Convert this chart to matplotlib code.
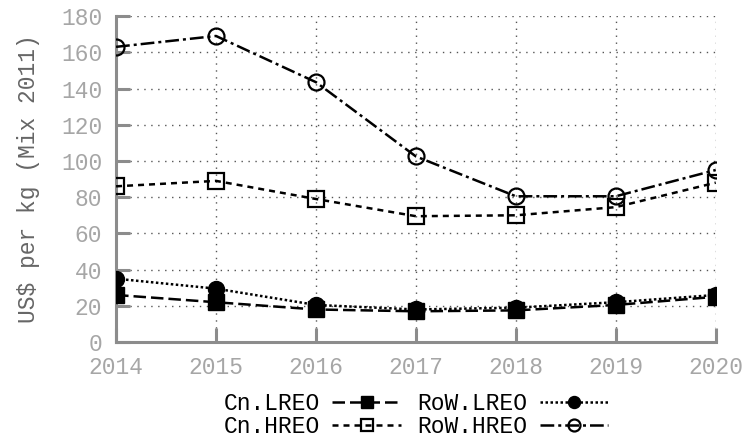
import matplotlib
matplotlib.use("Agg")
import matplotlib.pyplot as plt

plt.rcParams['font.family'] = ['Liberation Mono', 'DejaVu Sans Mono']

years = [2014, 2015, 2016, 2017, 2018, 2019, 2020]
cn_lreo = [26, 22, 18, 17, 17.5, 20.5, 25]
row_lreo = [35, 29.5, 20.5, 18, 19, 22, 26]
cn_hreo = [86, 89, 79, 69.5, 70, 74.5, 88]
row_hreo = [163, 169, 143.5, 102.5, 80.5, 80.5, 95]
yticks = [0, 20, 40, 60, 80, 100, 120, 140, 160, 180]

gris = '#8c8c8c'
fig = plt.figure(figsize=(7.44, 4.46), dpi=100)
ax = fig.add_axes([0.156, 0.233, 0.806, 0.731])

lw = 1.8
ms = 11.5
ax.plot(years, cn_lreo, color='black', linestyle=(0, (5, 2)), linewidth=lw,
        marker='s', markersize=ms, markerfacecolor='black', label='Cn.LREO', zorder=3)
ax.plot(years, cn_hreo, color='black', linestyle=(0, (2.4, 2)), linewidth=lw,
        marker='s', markersize=ms, markerfacecolor='none', markeredgewidth=1.6,
        label='Cn.HREO', zorder=3)
ax.plot(years, row_lreo, color='black', linestyle=(0, (1, 1)), linewidth=lw,
        marker='o', markersize=ms, markerfacecolor='black', label='RoW.LREO', zorder=3)
ax.plot(years, row_hreo, color='black', linestyle=(0, (5.5, 1.6, 1.2, 1.6)), linewidth=lw,
        marker='o', markersize=ms, markerfacecolor='none', markeredgewidth=1.6,
        label='RoW.HREO', zorder=3)

ax.set_xlim(2014, 2020)
ax.set_ylim(0, 180)
ax.set_xticks(years)
ax.set_yticks(yticks)
ax.grid(True, linestyle=(0, (1, 4)), color='#555555', linewidth=1)
for s in ['top', 'right']:
    ax.spines[s].set_visible(False)
for s in ['left', 'bottom']:
    ax.spines[s].set_color(gris)
    ax.spines[s].set_linewidth(2.2)
ax.tick_params(direction='in', length=10, width=2.2, color=gris, labelcolor='#a6a6a6',
               labelsize=16.5, pad=10)
ax.set_ylabel('US$ per kg (Mix 2011)', fontsize=16.5, color='#666666', labelpad=15)

# leyenda abajo, dos columnas, marcador a la derecha del texto
ax.legend(ncol=2, loc='upper center', bbox_to_anchor=(0.5, -0.11), frameon=False,
          markerfirst=False, fontsize=16.5, handlelength=3.0, columnspacing=0.7,
          labelspacing=0.0, handletextpad=0.55, markerscale=0.75, borderpad=0.1)

fig.savefig('out.png', dpi=100)
